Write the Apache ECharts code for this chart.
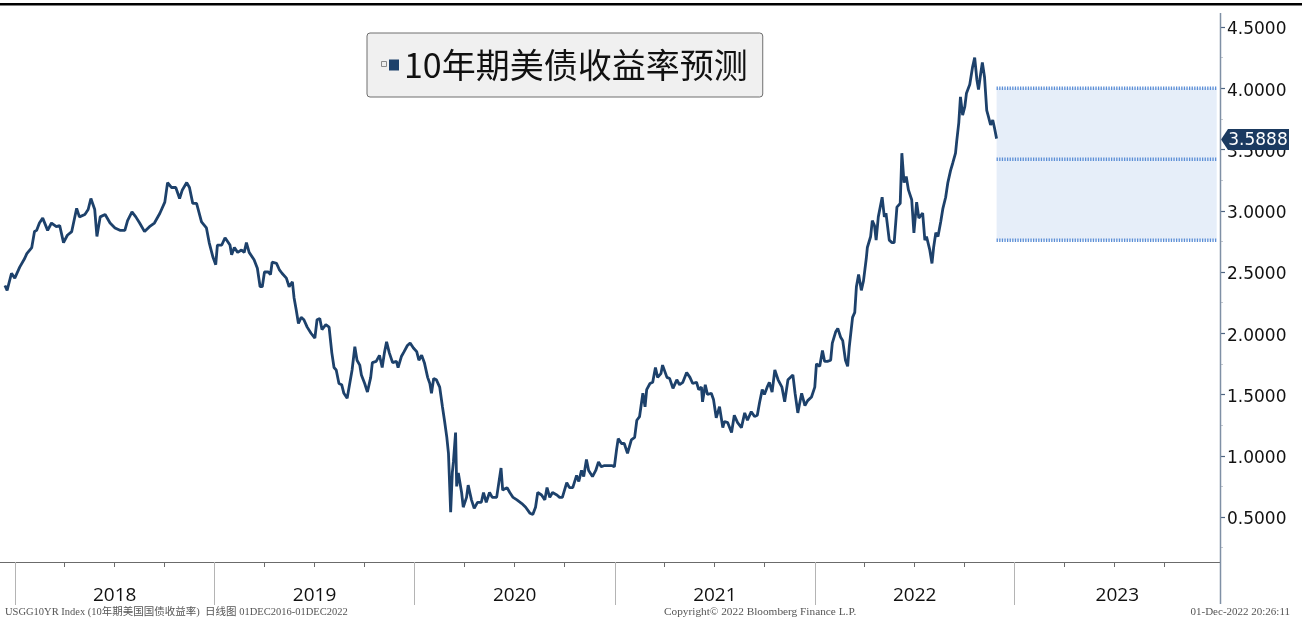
<!DOCTYPE html>
<html>
<head>
<meta charset="utf-8">
<script src="https://cdn.jsdelivr.net/npm/echarts@6/dist/echarts.min.js"></script>
<style>
  html, body { margin: 0; padding: 0; background: #ffffff; }
  #chart { width: 1302px; height: 624px; }
</style>
</head>
<body>
<div id="chart"></div>
<script>
// US 10Y Treasury yield samples (%)
const dates = [
  '2017-12-14','2017-12-18','2017-12-26','2018-01-01','2018-01-10','2018-01-19','2018-01-23','2018-02-01','2018-02-06','2018-02-10',
  '2018-02-15','2018-02-21','2018-03-02','2018-03-09','2018-03-18','2018-03-24','2018-03-31','2018-04-07','2018-04-15','2018-04-24',
  '2018-04-29','2018-05-09','2018-05-15','2018-05-20','2018-05-27','2018-05-31','2018-06-06','2018-06-15','2018-06-24','2018-07-03',
  '2018-07-12','2018-07-21','2018-07-26','2018-08-03','2018-08-10','2018-08-17','2018-08-26','2018-09-04','2018-09-13','2018-09-23',
  '2018-10-02','2018-10-07','2018-10-14','2018-10-22','2018-10-29','2018-11-03','2018-11-11','2018-11-16','2018-11-22','2018-11-29',
  '2018-12-08','2018-12-17','2018-12-22','2018-12-29','2019-01-03','2019-01-06','2019-01-14','2019-01-20','2019-01-29','2019-02-01',
  '2019-02-06','2019-02-12','2019-02-19','2019-02-24','2019-02-28','2019-03-05','2019-03-14','2019-03-20','2019-03-25','2019-03-29',
  '2019-04-02','2019-04-09','2019-04-13','2019-04-16','2019-04-24','2019-04-29','2019-05-04','2019-05-12','2019-05-17','2019-05-23',
  '2019-05-26','2019-05-30','2019-06-03','2019-06-08','2019-06-13','2019-06-19','2019-06-26','2019-07-03','2019-07-07','2019-07-12',
  '2019-07-16','2019-07-23','2019-07-29','2019-08-03','2019-08-07','2019-08-11','2019-08-16','2019-08-21','2019-08-25','2019-08-31',
  '2019-09-03','2019-09-09','2019-09-14','2019-09-18','2019-09-23','2019-09-26','2019-10-02','2019-10-07','2019-10-13','2019-10-16',
  '2019-10-23','2019-10-29','2019-11-03','2019-11-07','2019-11-11','2019-11-16','2019-11-22','2019-11-29','2019-12-02','2019-12-08',
  '2019-12-13','2019-12-19','2019-12-24','2019-12-30','2020-01-05','2020-01-09','2020-01-14','2020-01-19','2020-01-25','2020-01-29',
  '2020-02-01','2020-02-05','2020-02-10','2020-02-16','2020-02-21','2020-02-25','2020-02-29','2020-03-03','2020-03-07','2020-03-10',
  '2020-03-12','2020-03-16','2020-03-18','2020-03-21','2020-03-27','2020-03-30','2020-04-05','2020-04-08','2020-04-14','2020-04-19',
  '2020-04-25','2020-05-02','2020-05-06','2020-05-11','2020-05-17','2020-05-22','2020-05-30','2020-06-07','2020-06-10','2020-06-18',
  '2020-06-23','2020-06-29','2020-07-06','2020-07-15','2020-07-22','2020-07-30','2020-08-04','2020-08-09','2020-08-13','2020-08-20',
  '2020-08-26','2020-08-30','2020-09-04','2020-09-09','2020-09-17','2020-09-22','2020-09-27','2020-10-05','2020-10-10','2020-10-16',
  '2020-10-23','2020-10-27','2020-11-01','2020-11-05','2020-11-10','2020-11-14','2020-11-21','2020-11-27','2020-12-02','2020-12-07',
  '2020-12-13','2020-12-18','2020-12-26','2020-12-31','2021-01-04','2021-01-07','2021-01-13','2021-01-18','2021-01-24','2021-01-31',
  '2021-02-06','2021-02-10','2021-02-15','2021-02-21','2021-02-25','2021-02-28','2021-03-06','2021-03-11','2021-03-16','2021-03-20',
  '2021-03-26','2021-03-29','2021-04-06','2021-04-11','2021-04-17','2021-04-24','2021-04-29','2021-05-05','2021-05-12','2021-05-18',
  '2021-05-23','2021-05-30','2021-06-03','2021-06-08','2021-06-10','2021-06-15','2021-06-19','2021-06-26','2021-06-30','2021-07-05',
  '2021-07-11','2021-07-17','2021-07-20','2021-07-26','2021-08-02','2021-08-07','2021-08-13','2021-08-20','2021-08-26','2021-08-31',
  '2021-09-07','2021-09-13','2021-09-18','2021-09-22','2021-09-27','2021-10-01','2021-10-06','2021-10-10','2021-10-15','2021-10-20',
  '2021-10-26','2021-11-02','2021-11-07','2021-11-13','2021-11-22','2021-11-26','2021-12-01','2021-12-08','2021-12-14','2021-12-19',
  '2021-12-26','2022-01-01','2022-01-04','2022-01-10','2022-01-15','2022-01-19','2022-01-24','2022-01-30','2022-02-02','2022-02-08',
  '2022-02-12','2022-02-17','2022-02-21','2022-02-26','2022-03-02','2022-03-05','2022-03-11','2022-03-15','2022-03-18','2022-03-22',
  '2022-03-27','2022-03-31','2022-04-05','2022-04-07','2022-04-13','2022-04-16','2022-04-20','2022-04-23','2022-04-27','2022-05-04',
  '2022-05-08','2022-05-11','2022-05-17','2022-05-22','2022-05-26','2022-05-31','2022-06-06','2022-06-09','2022-06-13','2022-06-17',
  '2022-06-21','2022-06-27','2022-07-01','2022-07-06','2022-07-10','2022-07-17','2022-07-21','2022-07-24','2022-07-30','2022-08-03',
  '2022-08-06','2022-08-10','2022-08-14','2022-08-19','2022-08-23','2022-08-28','2022-09-01','2022-09-06','2022-09-10','2022-09-15',
  '2022-09-17','2022-09-21','2022-09-24','2022-09-28','2022-10-02','2022-10-05','2022-10-11','2022-10-16','2022-10-20','2022-10-24',
  '2022-10-27','2022-10-31','2022-11-03','2022-11-07','2022-11-11','2022-11-14','2022-11-18','2022-11-22','2022-11-25','2022-11-29'
];
const yields = [
  2.39,2.35,2.49,2.45,2.54,2.61,2.65,2.70,2.83,2.84,
  2.90,2.94,2.84,2.90,2.87,2.88,2.74,2.80,2.83,3.02,
  2.95,2.97,3.01,3.10,3.01,2.79,2.95,2.97,2.90,2.86,
  2.84,2.84,2.92,2.99,2.95,2.90,2.83,2.87,2.90,2.98,
  3.07,3.23,3.19,3.19,3.10,3.17,3.23,3.19,3.06,3.06,
  2.91,2.86,2.74,2.62,2.56,2.72,2.72,2.78,2.72,2.64,
  2.70,2.66,2.68,2.66,2.74,2.66,2.60,2.53,2.38,2.38,
  2.50,2.50,2.48,2.58,2.57,2.52,2.49,2.45,2.38,2.42,
  2.29,2.19,2.08,2.13,2.11,2.05,2.00,1.96,2.11,2.12,
  2.03,2.07,2.05,1.84,1.72,1.70,1.59,1.58,1.51,1.47,
  1.46,1.70,1.89,1.78,1.74,1.66,1.59,1.52,1.64,1.76,
  1.77,1.82,1.72,1.84,1.93,1.84,1.76,1.77,1.72,1.81,
  1.85,1.90,1.92,1.88,1.85,1.78,1.82,1.76,1.64,1.59,
  1.51,1.63,1.62,1.56,1.40,1.28,1.15,1.02,0.54,0.86,
  0.95,1.19,0.75,0.86,0.70,0.58,0.66,0.76,0.64,0.57,
  0.62,0.62,0.70,0.62,0.70,0.66,0.66,0.90,0.72,0.74,
  0.70,0.66,0.64,0.61,0.58,0.53,0.52,0.58,0.70,0.68,
  0.64,0.74,0.66,0.70,0.68,0.66,0.66,0.78,0.74,0.74,
  0.84,0.79,0.88,0.83,0.97,0.88,0.83,0.88,0.95,0.91,
  0.92,0.92,0.92,0.91,1.05,1.14,1.10,1.10,1.02,1.13,
  1.15,1.29,1.32,1.51,1.40,1.54,1.59,1.60,1.72,1.64,
  1.67,1.74,1.64,1.63,1.55,1.62,1.58,1.60,1.68,1.64,
  1.59,1.60,1.54,1.56,1.44,1.58,1.50,1.51,1.46,1.31,
  1.40,1.23,1.28,1.27,1.19,1.33,1.27,1.23,1.35,1.29,
  1.36,1.32,1.33,1.43,1.54,1.50,1.56,1.60,1.52,1.70,
  1.62,1.56,1.44,1.62,1.66,1.51,1.35,1.51,1.41,1.45,
  1.48,1.56,1.75,1.73,1.86,1.77,1.77,1.78,1.92,2.01,
  2.04,1.97,1.94,1.78,1.73,1.89,2.13,2.17,2.38,2.48,
  2.35,2.43,2.61,2.70,2.79,2.92,2.88,2.76,2.95,3.11,
  2.95,2.98,2.76,2.74,2.74,3.03,3.06,3.47,3.23,3.28,
  3.17,3.09,2.82,3.07,2.94,2.98,2.76,2.79,2.68,2.57,
  2.70,2.82,2.79,2.91,3.02,3.11,3.23,3.33,3.39,3.47,
  3.56,3.72,3.93,3.78,3.85,3.96,4.03,4.17,4.25,4.07,
  3.99,4.12,4.21,4.09,3.82,3.77,3.70,3.74,3.68,3.5888
];

// Forecast range for the coming year
const forecastStart = '2022-11-29';
const forecastEnd = '2024-01-05';
const forecastHigh = 4.00;
const forecastMid = 3.42;
const forecastLow = 2.76;

// Axis ticks and labels
const yTicks = [0.5, 1.0, 1.5, 2.0, 2.5, 3.0, 3.5, 4.0, 4.5];
const yMinorTicks = [0.25, 0.75, 1.25, 1.75, 2.25, 2.75, 3.25, 3.75, 4.25];
const years = ['2018', '2019', '2020', '2021', '2022', '2023'];
const seriesName = '10年期美债收益率预测';

const footerLeft = 'USGG10YR Index (10年期美国国债收益率)  日线图 01DEC2016-01DEC2022';
const footerMid = 'Copyright\u00A9 2022 Bloomberg Finance L.P.';
const footerRight = '01-Dec-2022 20:26:11';

// Axis extents
const xMin = '2017-12-05';
const xMax = '2024-01-11';
const yMin = 0.1327;
const yMax = 4.6143;

// Dates are plotted on a numeric axis as UTC timestamps
const ts = s => +new Date(s + 'T00:00:00Z');
const yearStarts = years.map(y => ts(y + '-01-01'));
const cellEdges = yearStarts.concat([ts(xMax)]);
const yearMids = years.map((y, i) => (cellEdges[i] + cellEdges[i + 1]) / 2);
const quarterTicks = [];
years.forEach(y => ['-04-01', '-07-01', '-10-01'].forEach(m => quarterTicks.push(ts(y + m))));

const lineData = dates.map((d, i) => [ts(d), yields[i]]);
const lastValue = yields[yields.length - 1];

const navy = '#1d416b';
const dotBlue = '#5b8ed6';
const dotted = (v) => ({
  type: 'line',
  silent: true,
  showSymbol: false,
  symbol: 'none',
  data: [[ts(forecastStart), v], [ts(forecastEnd), v]],
  lineStyle: { color: dotBlue, width: 3.5, type: [1.3, 1.3] },
  z: 4
});

const chart = echarts.init(document.getElementById('chart'), null, { renderer: 'canvas' });

chart.setOption({
  animation: false,
  backgroundColor: '#ffffff',
  grid: { left: 0, right: 82, top: 13, bottom: 62, containLabel: false },
  legend: {
    left: 367,
    top: 33,
    padding: [10, 15, 10, 22],
    backgroundColor: '#f0f0f0',
    borderColor: '#6e6e6e',
    borderWidth: 1,
    borderRadius: 3,
    itemWidth: 10,
    itemHeight: 11,
    selectedMode: false,
    textStyle: { fontSize: 34, color: '#111111', fontFamily: 'Noto Sans CJK SC', lineHeight: 44 },
    data: [{ name: seriesName, icon: 'rect', itemStyle: { color: navy } }]
  },
  xAxis: [
    {
      type: 'value',
      position: 'bottom',
      min: ts(xMin),
      max: ts(xMax),
      axisLine: { show: true, lineStyle: { color: '#6b6b6b', width: 1.2 } },
      axisTick: { show: true, length: 5, lineStyle: { color: '#6b6b6b' }, customValues: quarterTicks },
      axisLabel: {
        show: true,
        customValues: yearMids,
        formatter: v => String(new Date(v).getUTCFullYear()),
        margin: 24,
        fontSize: 19,
        color: '#111111',
        fontFamily: 'Open Sans'
      },
      splitLine: { show: false }
    },
    {
      type: 'value',
      position: 'bottom',
      min: ts(xMin),
      max: ts(xMax),
      axisLine: { show: false },
      axisTick: { show: true, length: 43, lineStyle: { color: '#b4b4b4' }, customValues: yearStarts },
      axisLabel: { show: false },
      splitLine: { show: false }
    }
  ],
  yAxis: [
    {
      type: 'value',
      position: 'right',
      min: yMin,
      max: yMax,
      axisLine: { show: false },
      axisTick: { show: true, length: 5, lineStyle: { color: '#4d6380', width: 1.2 }, customValues: yTicks },
      axisLabel: {
        show: true,
        customValues: yTicks,
        formatter: v => '{t|' + v.toFixed(4) + '}',
        margin: 7,
        rich: {
          t: { padding: [6, 0, 0, 0], fontSize: 17, color: '#111111', fontFamily: 'DejaVu Sans' }
        }
      },
      splitLine: { show: false }
    },
    {
      type: 'value',
      position: 'right',
      min: yMin,
      max: yMax,
      axisLine: { show: false },
      axisTick: { show: true, length: 3, lineStyle: { color: '#c4c9d0' }, customValues: yMinorTicks },
      axisLabel: { show: false },
      splitLine: { show: false }
    }
  ],
  series: [
    {
      name: seriesName,
      type: 'line',
      showSymbol: false,
      symbol: 'none',
      data: lineData,
      lineStyle: { color: navy, width: 2.8 },
      itemStyle: { color: navy },
      z: 5,
      markPoint: {
        silent: true,
        symbol: 'path://M0,10 L7,0 L68,0 L68,20 L7,20 Z',
        symbolSize: [68, 21],
        symbolOffset: [35, 1],
        itemStyle: { color: '#1b3a60' },
        label: {
          show: true,
          position: 'inside',
          offset: [3, 1],
          color: '#ffffff',
          fontSize: 17,
          fontFamily: 'DejaVu Sans',
          formatter: p => Number(p.value).toFixed(4)
        },
        data: [{ coord: [ts(xMax), lastValue], value: lastValue }]
      }
    },
    Object.assign(dotted(forecastHigh), {
      markArea: {
        silent: true,
        itemStyle: { color: '#e6eef9' },
        data: [[{ coord: [ts(forecastStart), forecastHigh] }, { coord: [ts(forecastEnd), forecastLow] }]]
      }
    }),
    dotted(forecastMid),
    dotted(forecastLow)
  ],
  graphic: [
    { type: 'rect', shape: { x: 0, y: 3, width: 1302, height: 2.5 }, style: { fill: '#000000' }, silent: true },
    { type: 'line', shape: { x1: 1220.5, y1: 13, x2: 1220.5, y2: 604 }, style: { stroke: '#7f90a5', lineWidth: 1.5 }, silent: true, z: 10 },
    { type: 'rect', shape: { x: 381.5, y: 61.5, width: 5, height: 5 }, style: { fill: '#eeeeee', stroke: '#8a8a8a', lineWidth: 1 }, silent: true, z: 10 },
    { type: 'text', left: 5, top: 607, style: { text: footerLeft, fill: '#555555', fontSize: 10.5, fontFamily: 'Liberation Serif, Noto Sans CJK SC' }, silent: true },
    { type: 'text', left: 664, top: 607, style: { text: footerMid, fill: '#555555', fontSize: 11.3, fontFamily: 'Liberation Serif' }, silent: true },
    { type: 'text', right: 12, top: 607, style: { text: footerRight, fill: '#555555', fontSize: 11, fontFamily: 'Liberation Serif' }, silent: true }
  ]
});
</script>
</body>
</html>
